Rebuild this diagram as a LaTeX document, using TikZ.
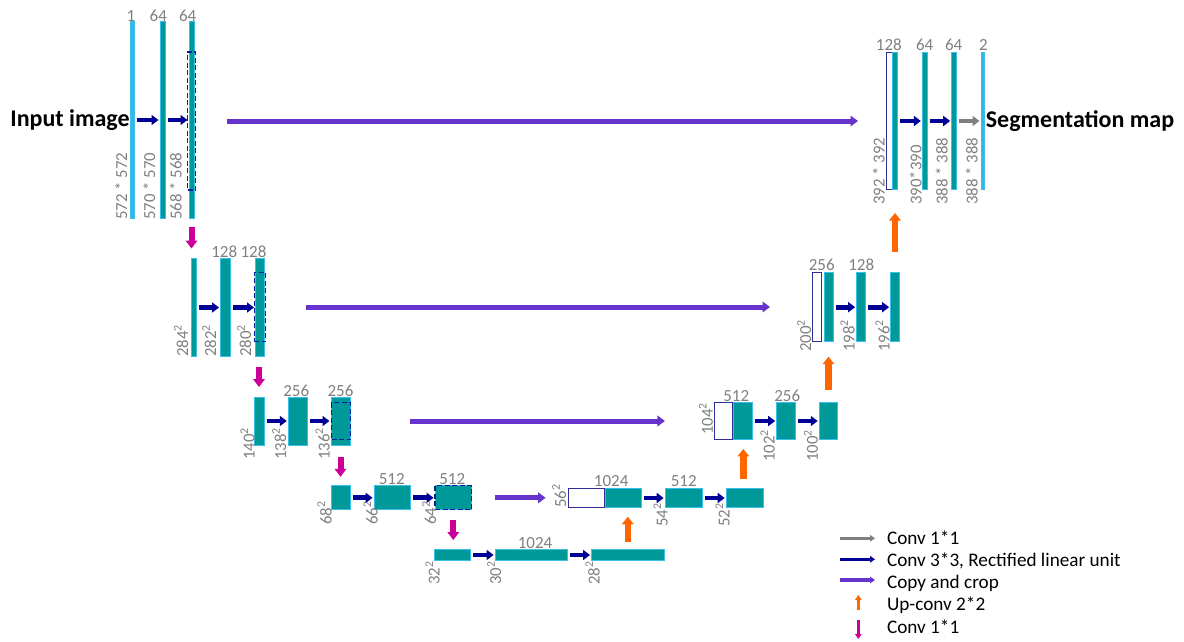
\documentclass[tikz,border=0pt]{standalone}
\usepackage{fontspec}
\setmainfont{Carlito}
\usetikzlibrary{arrows.meta}

\definecolor{tealfill}{RGB}{0,153,153}
\definecolor{barline}{RGB}{60,190,235}
\definecolor{iofill}{RGB}{51,184,230}
\definecolor{cropline}{RGB}{0,32,160}
\definecolor{copyline}{RGB}{46,46,150}
\definecolor{labelgray}{RGB}{128,128,128}
\definecolor{convblue}{RGB}{0,0,150}
\definecolor{copypurple}{RGB}{102,51,204}
\definecolor{uporange}{RGB}{255,102,0}
\definecolor{downmagenta}{RGB}{204,0,153}
\definecolor{onegray}{RGB}{128,128,128}

\tikzset{every picture/.style={line width=0.75pt}}
\tikzset{
  bar/.style={draw=barline, fill=tealfill, inner sep=0pt, outer sep=0pt, line width=1pt},
  iobar/.style={bar, fill=iofill},
  whitebox/.style={draw=copyline, fill=white, inner sep=0pt, outer sep=0pt, line width=1pt},
  cropbox/.style={draw=cropline, dash pattern=on 5pt off 2.5pt, line width=1.2pt, inner sep=0pt, outer sep=0pt},
  sizelabel/.style={rotate=90, anchor=south west, inner sep=0pt, text=labelgray, font=\fontsize{16.8}{18}\selectfont},
  chanlabel/.style={anchor=south, inner sep=0pt, text=labelgray, font=\fontsize{17}{18}\selectfont},
  bigtext/.style={inner sep=0pt, font=\fontsize{24}{28}\selectfont\bfseries},
  keytext/.style={anchor=base west, inner sep=0pt, font=\fontsize{19.2}{22}\selectfont},
  conv/.style={draw=convblue, line width=4.7pt, -{Triangle[length=7pt,width=10pt]}, shorten <=2.5pt, shorten >=1.5pt},
  oneconv/.style={conv, draw=onegray},
  copyarrow/.style={draw=copypurple, line width=5pt, -{Triangle[length=7.5pt,width=10.5pt]}},
  uparrow/.style={draw=uporange, line width=6.5pt, -{Triangle[length=7.5pt,width=11.5pt]}},
  downarrow/.style={draw=downmagenta, line width=6pt, -{Triangle[length=8pt,width=11.5pt]}},
  keyarrow/.style={line width=3.3pt, -{Triangle[length=5pt,width=6.5pt]}}
}

\begin{document}
\begin{tikzpicture}[x=1pt,y=1pt,yscale=-1,xscale=1]
\useasboundingbox (0,0) rectangle (1184,642);

%Contracting path, level 1
\node[iobar, minimum width=4pt, minimum height=196pt] (in1) at (132,120) {};
\node[bar, minimum width=5pt, minimum height=196pt] (d11) at (162.5,120) {};
\node[bar, minimum width=5pt, minimum height=196pt] (d12) at (191.5,120) {};
\node[cropbox, minimum width=8pt, minimum height=138pt] (crop1) at (191.5,121) {};
%Contracting path, level 2
\node[bar, minimum width=5pt, minimum height=98pt] (d20) at (194,307.5) {};
\node[bar, minimum width=9.5pt, minimum height=98pt] (d21) at (225.3,307.5) {};
\node[bar, minimum width=9pt, minimum height=98pt] (d22) at (260,307.5) {};
\node[cropbox, minimum width=11.5pt, minimum height=69pt] (crop2) at (260,307) {};
%Contracting path, level 3
\node[bar, minimum width=10pt, minimum height=48pt] (d30) at (259,421) {};
\node[bar, minimum width=19pt, minimum height=48pt] (d31) at (297.8,421) {};
\node[bar, minimum width=19pt, minimum height=48pt] (d32) at (340.5,421) {};
\node[cropbox, minimum width=19pt, minimum height=37pt] (crop3) at (341,421) {};
%Contracting path, level 4
\node[bar, minimum width=19pt, minimum height=24pt] (d40) at (340.5,497.8) {};
\node[bar, minimum width=36.5pt, minimum height=24pt] (d41) at (392.3,497.8) {};
\node[bar, minimum width=36.5pt, minimum height=24pt] (d42) at (453.3,497.8) {};
\node[cropbox, minimum width=36.5pt, minimum height=24pt] (crop4) at (453.3,497.8) {};
%Bottom level
\node[bar, minimum width=36.5pt, minimum height=11.5pt] (d50) at (452.5,555) {};
\node[bar, minimum width=72.5pt, minimum height=11.5pt] (d51) at (531.3,555) {};
\node[bar, minimum width=72.5pt, minimum height=11.5pt] (d52) at (627.8,555) {};
%Expanding path, level 4
\node[whitebox, minimum width=36.3pt, minimum height=19.5pt] (u4w) at (586.8,498) {};
\node[bar, minimum width=36pt, minimum height=19.5pt] (u4a) at (623,498) {};
\node[bar, minimum width=37pt, minimum height=19.5pt] (u4b) at (683.7,498) {};
\node[bar, minimum width=37pt, minimum height=19.5pt] (u4c) at (744.7,498) {};
%Expanding path, level 3
\node[whitebox, minimum width=17.7pt, minimum height=36.5pt] (u3w) at (723.8,421) {};
\node[bar, minimum width=18.7pt, minimum height=36.5pt] (u3a) at (743.3,421) {};
\node[bar, minimum width=18.7pt, minimum height=36.5pt] (u3b) at (786,421) {};
\node[bar, minimum width=18.5pt, minimum height=36.5pt] (u3c) at (828.5,421) {};
%Expanding path, level 2
\node[whitebox, minimum width=9.3pt, minimum height=69pt] (u2w) at (817,307.2) {};
\node[bar, minimum width=9.3pt, minimum height=69pt] (u2a) at (828.7,307.2) {};
\node[bar, minimum width=9.3pt, minimum height=69pt] (u2b) at (861.3,307.2) {};
\node[bar, minimum width=8.7pt, minimum height=69pt] (u2c) at (895,307.2) {};
%Expanding path, level 1
\node[whitebox, minimum width=5.6pt, minimum height=136pt] (u1w) at (889.5,121) {};
\node[bar, minimum width=5pt, minimum height=136pt] (u1a) at (894.8,121) {};
\node[bar, minimum width=5.3pt, minimum height=136pt] (u1b) at (925,121) {};
\node[bar, minimum width=5pt, minimum height=136pt] (u1c) at (954.2,121) {};
\node[iobar, minimum width=3pt, minimum height=136pt] (out) at (982.5,121) {};

%Input and output texts
\node[bigtext, anchor=east] (intext) at (in1.west) {Input image};
\node[bigtext, anchor=west] (outtext) at ([xshift=1.5pt]out.east) {Segmentation map};

%Channel numbers
\node[chanlabel] (c11) at (131,22) {1};
\node[chanlabel] (c12) at (158.3,22) {64};
\node[chanlabel] (c13) at (187.7,22) {64};
\node[chanlabel] (c21) at (224.2,258) {128};
\node[chanlabel] (c22) at (253.5,258) {128};
\node[chanlabel] (c31) at (296.2,396.5) {256};
\node[chanlabel] (c32) at (340.5,396.5) {256};
\node[chanlabel] (c41) at (391.7,485) {512};
\node[chanlabel] (c42) at (452.2,485) {512};
\node[chanlabel] (c51) at (535,548.5) {1024};
\node[chanlabel] (c61) at (611.2,487) {1024};
\node[chanlabel] (c62) at (683.7,487) {512};
\node[chanlabel] (c71) at (736.2,402) {512};
\node[chanlabel] (c72) at (787.2,402) {256};
\node[chanlabel] (c81) at (821.7,271) {256};
\node[chanlabel] (c82) at (861.2,271) {128};
\node[chanlabel] (c91) at (888.8,51) {128};
\node[chanlabel] (c92) at (924.7,51) {64};
\node[chanlabel] (c93) at (953.7,51) {64};
\node[chanlabel] (c94) at (983.3,51) {2};

%Feature map sizes
\node[sizelabel] (s11) at (127.5,220) {572 * 572};
\node[sizelabel] (s12) at (155.5,220) {570 * 570};
\node[sizelabel] (s13) at (182,220) {568 * 568};
\node[sizelabel] (s21) at (188.5,357) {284\textsuperscript{2}};
\node[sizelabel] (s22) at (216.7,357) {282\textsuperscript{2}};
\node[sizelabel] (s23) at (251.7,357) {280\textsuperscript{2}};
\node[sizelabel] (s31) at (255,460) {140\textsuperscript{2}};
\node[sizelabel] (s32) at (286.7,460) {138\textsuperscript{2}};
\node[sizelabel] (s33) at (330,460) {136\textsuperscript{2}};
\node[sizelabel] (s41) at (332,525) {68\textsuperscript{2}};
\node[sizelabel] (s42) at (378,525) {66\textsuperscript{2}};
\node[sizelabel] (s43) at (436.7,525) {64\textsuperscript{2}};
\node[sizelabel] (s51) at (440,585) {32\textsuperscript{2}};
\node[sizelabel] (s52) at (501.7,585) {30\textsuperscript{2}};
\node[sizelabel] (s53) at (600,585) {28\textsuperscript{2}};
\node[sizelabel] (s61) at (566.7,508) {56\textsuperscript{2}};
\node[sizelabel] (s62) at (668,527) {54\textsuperscript{2}};
\node[sizelabel] (s63) at (730,527) {52\textsuperscript{2}};
\node[sizelabel] (s71) at (713.3,435) {104\textsuperscript{2}};
\node[sizelabel] (s72) at (775,462) {102\textsuperscript{2}};
\node[sizelabel] (s73) at (818.3,462) {100\textsuperscript{2}};
\node[sizelabel] (s81) at (811.7,352) {200\textsuperscript{2}};
\node[sizelabel] (s82) at (855,352) {198\textsuperscript{2}};
\node[sizelabel] (s83) at (890,352) {196\textsuperscript{2}};
\node[sizelabel] (s91) at (885,205) {392 * 392};
\node[sizelabel] (s92) at (922,205) {390*390};
\node[sizelabel] (s93) at (948,205) {388 * 388};
\node[sizelabel] (s94) at (978,205) {388 * 388};

%Conv 3*3 arrows
\draw[conv] (in1.east) -- (d11.west);
\draw[conv] (d11.east) -- (d12.west);
\draw[conv] (d20.east) -- (d21.west);
\draw[conv] (d21.east) -- (d22.west);
\draw[conv] (d30.east) -- (d31.west);
\draw[conv] (d31.east) -- (d32.west);
\draw[conv] (d40.east) -- (d41.west);
\draw[conv] (d41.east) -- (d42.west);
\draw[conv] (d50.east) -- (d51.west);
\draw[conv] (d51.east) -- (d52.west);
\draw[conv] (u4a.east) -- (u4b.west);
\draw[conv] (u4b.east) -- (u4c.west);
\draw[conv] (u3a.east) -- (u3b.west);
\draw[conv] (u3b.east) -- (u3c.west);
\draw[conv] (u2a.east) -- (u2b.west);
\draw[conv] (u2b.east) -- (u2c.west);
\draw[conv] (u1a.east) -- (u1b.west);
\draw[conv] (u1b.east) -- (u1c.west);
\draw[oneconv] (u1c.east) -- (out.west);

%Copy and crop arrows
\draw[copyarrow, shorten <=31.2pt, shorten >=28.7pt] (crop1.east) -- (crop1.east -| u1w.west);
\draw[copyarrow, shorten <=40.3pt, shorten >=42.3pt] (crop2.east) -- (crop2.east -| u2w.west);
\draw[copyarrow, shorten <=59.5pt, shorten >=50pt] (crop3.east) -- (crop3.east -| u3w.west);
\draw[copyarrow, shorten <=23.5pt, shorten >=23pt] (crop4.east) -- (crop4.east -| u4w.west);

%Down arrows
\draw[downarrow, shorten <=9.3pt, shorten >=10pt] (d12.south) -- (d12.south |- d20.north);
\draw[downarrow, shorten <=10pt, shorten >=10pt] (d30.north |- d22.south) -- (d30.north);
\draw[downarrow, shorten <=12.3pt, shorten >=9pt] (d32.south) -- (d32.south |- d40.north);
\draw[downarrow, shorten <=10.2pt, shorten >=9.2pt] (d42.south) -- (d42.south |- d50.north);

%Up-conv arrows
\draw[uparrow, shorten <=7.5pt, shorten >=9pt] (d52.north) -- (d52.north |- u4a.south);
\draw[uparrow, shorten <=9pt, shorten >=9.7pt] (u3a.south |- u4c.north) -- (u3a.south);
\draw[uparrow, shorten <=12.7pt, shorten >=15pt] (u3c.north) -- (u3c.north |- u2a.south);
\draw[uparrow, shorten <=20.7pt, shorten >=24pt] (u2c.north) -- (u2c.north |- u1a.south);

%Legend
\node[keytext] (k1) at (886.7,544) {Conv 1*1};
\node[keytext] (k2) at (886.7,566) {Conv 3*3, Rectified linear unit};
\node[keytext] (k3) at (886.7,588) {Copy and crop};
\node[keytext] (k4) at (886.7,610.5) {Up-conv 2*2};
\node[keytext] (k5) at (886.7,633) {Conv 1*1};
\coordinate (a1) at (840,538.3);
\coordinate (a2) at (840,559.3);
\coordinate (a3) at (840,580);
\coordinate (a4) at (858.3,610);
\coordinate (a5) at (858.3,620);
\draw[keyarrow, draw=onegray] (a1) -- (a1 -| 875,0);
\draw[keyarrow, draw=convblue] (a2) -- (a2 -| 875,0);
\draw[keyarrow, draw=copypurple] (a3) -- (a3 -| 875,0);
\draw[keyarrow, draw=uporange] (a4) -- (858.3,595);
\draw[keyarrow, draw=downmagenta] (a5) -- (858.3,639);

\end{tikzpicture}
\end{document}
